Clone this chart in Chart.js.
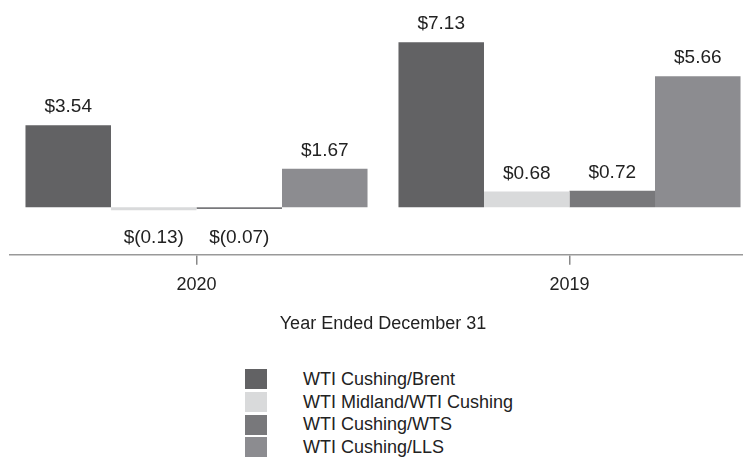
<!DOCTYPE html>
<html>
<head>
<meta charset="utf-8">
<script src="https://cdn.jsdelivr.net/npm/chart.js@4.4.1/dist/chart.umd.min.js"></script>
<style>
    html, body { margin: 0; padding: 0; background: #fff; overflow: hidden; }
    #wrap { position: absolute; left: 0; top: 0; width: 760px; height: 335px; }
    #legend { position: absolute; left: 245px; top: 368px; font-family: 'Liberation Sans', Arial, sans-serif; font-size: 18px; color: #222; }
    .item { height: 22.7px; display: flex; align-items: center; }
    .box { width: 22px; height: 20px; margin-right: 36px; }
</style>
</head>
<body>
<div id="wrap"><canvas id="chart"></canvas></div>
<div id="legend"></div>
<script>
const years = ['2020', '2019'];
const series = ['WTI Cushing/Brent', 'WTI Midland/WTI Cushing', 'WTI Cushing/WTS', 'WTI Cushing/LLS'];
const brent = [3.54, 7.13];
const midland = [-0.13, 0.68];
const wts = [-0.07, 0.72];
const lls = [1.67, 5.66];
const colors = ['#626264', '#d9dadb', '#78787b', '#8c8c90'];

const FONT = "'Liberation Sans', Arial, sans-serif";

function money(v) {
    return v < 0 ? '$(' + (-v).toFixed(2) + ')' : '$' + v.toFixed(2);
}

// etiquetas de valor encima / debajo de cada barra
const valueLabels = {
    id: 'valueLabels',
    afterDatasetsDraw(chart) {
        const ctx = chart.ctx;
        ctx.save();
        ctx.font = '19px ' + FONT;
        ctx.fillStyle = '#222';
        ctx.textAlign = 'center';
        ctx.textBaseline = 'alphabetic';
        chart.data.datasets.forEach((ds, i) => {
            chart.getDatasetMeta(i).data.forEach((bar, j) => {
                const v = ds.data[j];
                if (v >= 0) {
                    ctx.fillText(money(v), bar.x, bar.y - 13);
                } else {
                    ctx.fillText(money(v), bar.x, bar.base + 36);
                }
            });
        });
        ctx.restore();
    }
};

const data = [brent, midland, wts, lls];

new Chart(document.getElementById('chart'), {
    type: 'bar',
    data: {
        labels: years,
        datasets: series.map((name, i) => ({
            label: name,
            data: data[i],
            backgroundColor: colors[i],
            borderWidth: 0,
            categoryPercentage: 0.917,
            barPercentage: 1
        }))
    },
    options: {
        responsive: true,
        maintainAspectRatio: false,
        animation: false,
        layout: { padding: { left: 10, right: 4, top: 0, bottom: 0 } },
        plugins: {
            legend: { display: false },
            tooltip: { enabled: false }
        },
        scales: {
            x: {
                grid: {
                    offset: false,
                    drawOnChartArea: false,
                    drawTicks: true,
                    tickLength: 10,
                    color: '#888',
                    lineWidth: 1.5
                },
                border: { display: true, color: '#999', width: 1.5 },
                ticks: { color: '#222', font: { family: FONT, size: 18 }, padding: 9 },
                title: {
                    display: true,
                    text: 'Year Ended December 31',
                    color: '#222',
                    font: { family: FONT, size: 18 },
                    padding: { top: 9, bottom: 0 }
                }
            },
            y: {
                min: -2.05,
                max: 8.95,
                ticks: { display: false, stepSize: 1 },
                border: { display: false },
                grid: {
                    drawTicks: false,
                    color: ctx => ctx.tick && ctx.tick.value === 0 ? '#555' : 'rgba(0,0,0,0)',
                    lineWidth: 1.5
                }
            }
        }
    },
    plugins: [valueLabels]
});

const legend = document.getElementById('legend');
series.forEach((name, i) => {
    const row = document.createElement('div');
    row.className = 'item';
    row.innerHTML = `<span class="box" style="background:${colors[i]}"></span><span>${name}</span>`;
    legend.appendChild(row);
});
</script>
</body>
</html>
